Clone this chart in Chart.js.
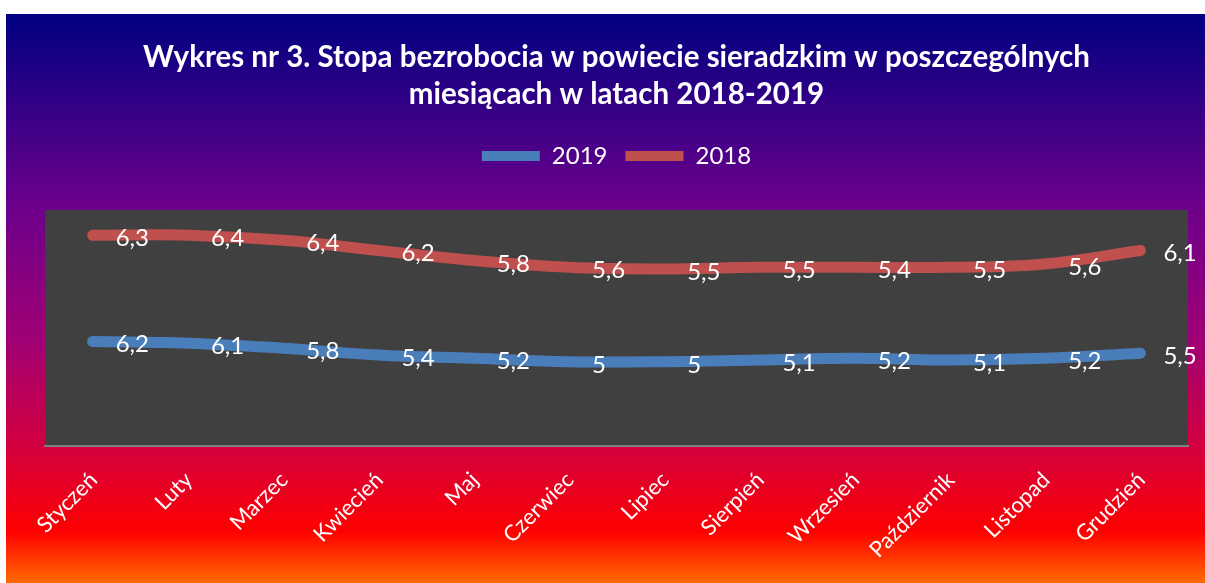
<!DOCTYPE html>
<html lang="pl">
<head>
<meta charset="utf-8">
<title>Stopa bezrobocia w powiecie sieradzkim</title>
<script src="https://cdn.jsdelivr.net/npm/chart.js@4"></script>
<style>
    html, body { margin: 0; padding: 0; background: #fff; }
    #wrap { width: 1205px; height: 583px; position: relative; }
</style>
</head>
<body>
<div id="wrap"><canvas id="wykres"></canvas></div>
<script>
// dane
const miesiace = ['Styczeń', 'Luty', 'Marzec', 'Kwiecień', 'Maj', 'Czerwiec', 'Lipiec',
    'Sierpień', 'Wrzesień', 'Październik', 'Listopad', 'Grudzień'];
const rok2019 = [6.2, 6.1, 5.8, 5.4, 5.2, 5, 5, 5.1, 5.2, 5.1, 5.2, 5.5];
const rok2018 = [6.3, 6.4, 6.4, 6.2, 5.8, 5.6, 5.5, 5.5, 5.4, 5.5, 5.6, 6.1];

const niebieski = '#4a7ebb';
const czerwony = '#c0504d';
const czcionka = 'Lato, "Open Sans", sans-serif';

// tlo z gradientem i szary obszar wykresu
const tlo = {
    id: 'tlo',
    beforeDraw(chart) {
        const ctx = chart.ctx;
        ctx.save();
        const g = ctx.createLinearGradient(0, 14, 0, 583);
        g.addColorStop(0, '#000080');
        g.addColorStop(0.33, '#6a008c');
        g.addColorStop(0.57, '#a00075');
        g.addColorStop(0.77, '#d6003c');
        g.addColorStop(0.91, '#ff0000');
        g.addColorStop(1, '#ff6a00');
        ctx.fillStyle = g;
        ctx.fillRect(6, 14, chart.width - 6, chart.height - 14);
        const a = chart.chartArea;
        ctx.fillStyle = '#404040';
        ctx.fillRect(a.left, a.top, a.right - a.left, a.bottom - a.top);
        ctx.restore();
    }
};

// odstep miedzy legenda a obszarem wykresu
const odstep = {
    id: 'odstep',
    beforeInit(chart) {
        const box = {
            position: 'top',
            weight: 1,
            fullSize: true,
            options: {},
            isHorizontal: () => true,
            update(maxWidth) { box.width = maxWidth; box.height = 32; },
            getPadding: () => ({ left: 0, right: 0, top: 0, bottom: 0 }),
            draw() {}
        };
        Chart.layouts.addBox(chart, box);
    }
};

// etykiety wartosci po prawej stronie punktow
const etykiety = {
    id: 'etykiety',
    afterDatasetsDraw(chart) {
        const ctx = chart.ctx;
        ctx.save();
        ctx.font = '24px ' + czcionka;
        ctx.fillStyle = '#ffffff';
        ctx.textAlign = 'left';
        ctx.textBaseline = 'alphabetic';
        chart.data.datasets.forEach((ds, i) => {
            const meta = chart.getDatasetMeta(i);
            meta.data.forEach((p, j) => {
                const txt = String(ds.data[j]).replace('.', ',');
                ctx.fillText(txt, p.x + 23, p.y + 11);
            });
        });
        ctx.restore();
    }
};

const ctx = document.getElementById('wykres').getContext('2d');
new Chart(ctx, {
    type: 'line',
    data: {
        labels: miesiace,
        datasets: [
            {
                label: '2019',
                data: rok2019,
                borderColor: niebieski,
                backgroundColor: niebieski,
                borderWidth: 11,
                borderCapStyle: 'round',
                borderJoinStyle: 'round',
                pointRadius: 0,
                tension: 0.4,
                fill: false
            },
            {
                label: '2018',
                data: rok2018,
                borderColor: czerwony,
                backgroundColor: czerwony,
                borderWidth: 11,
                borderCapStyle: 'round',
                borderJoinStyle: 'round',
                pointRadius: 0,
                tension: 0.4,
                fill: false
            }
        ]
    },
    options: {
        responsive: true,
        maintainAspectRatio: false,
        animation: false,
        layout: { padding: { left: 45, right: 17, top: 0, bottom: 0 } },
        plugins: {
            title: {
                display: true,
                text: ['Wykres nr 3. Stopa bezrobocia w powiecie sieradzkim w poszczególnych',
                    'miesiącach w latach 2018-2019'],
                color: '#ffffff',
                font: { family: czcionka, size: 29.5, weight: 'bold', lineHeight: 1.254 },
                padding: { top: 39, bottom: 13 }
            },
            legend: {
                display: true,
                labels: {
                    color: '#ffffff',
                    font: { family: czcionka, size: 24 },
                    boxWidth: 58,
                    boxHeight: 10,
                    padding: 18,
                    useBorderRadius: true,
                    borderRadius: 5,
                    generateLabels(chart) {
                        return chart.data.datasets.map((ds, i) => ({
                            text: ds.label,
                            fillStyle: ds.borderColor,
                            strokeStyle: ds.borderColor,
                            lineWidth: 0,
                            fontColor: '#ffffff',
                            hidden: false,
                            datasetIndex: i
                        }));
                    }
                }
            },
            tooltip: { enabled: false }
        },
        scales: {
            x: {
                offset: true,
                grid: { display: false },
                border: { display: true, color: '#7f7f7f', width: 2 },
                ticks: {
                    color: '#ffffff',
                    font: { family: czcionka, size: 22 },
                    minRotation: 45,
                    maxRotation: 45,
                    padding: 13,
                    labelOffset: 1
                },
                afterFit(scale) { scale.height = 137; }
            },
            y: {
                display: false,
                stacked: true,
                min: 0,
                max: 14
            }
        }
    },
    plugins: [tlo, odstep, etykiety]
});
</script>
</body>
</html>
